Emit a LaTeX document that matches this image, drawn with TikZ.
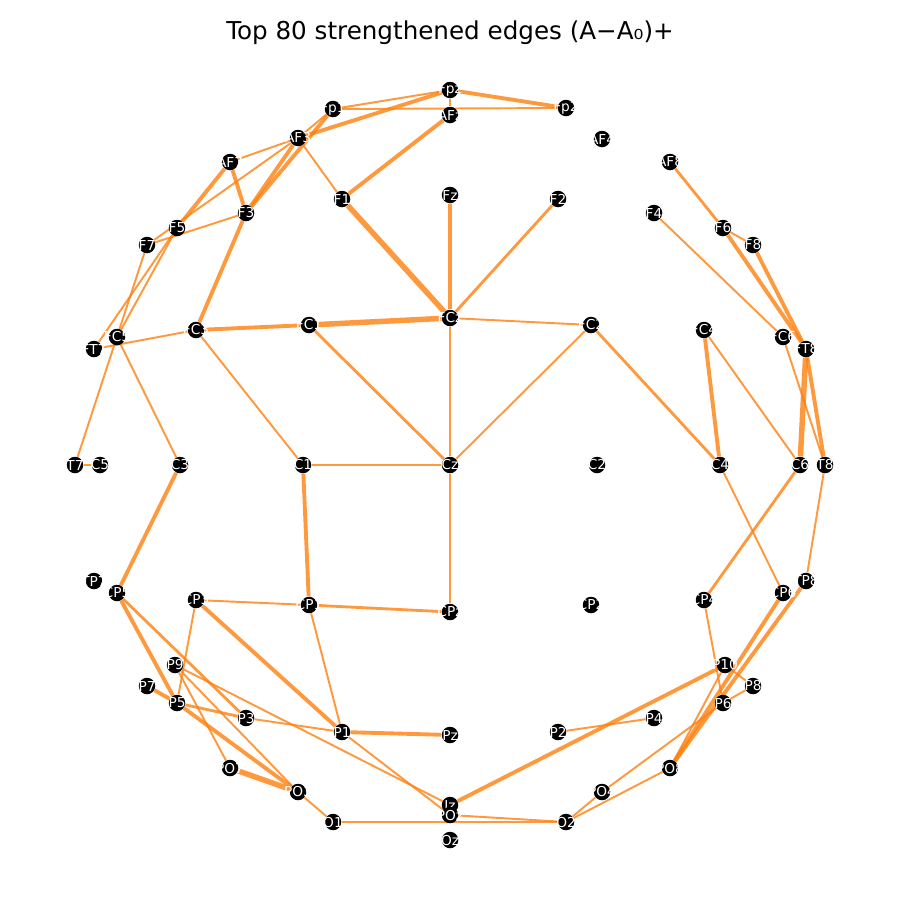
\documentclass[tikz,border=0pt]{standalone}
\usepackage{fontspec}
\setmainfont{DejaVu Sans}
\usepackage{tikz}
\pgfdeclarelayer{background}
\pgfsetlayers{background,main}
\definecolor{taborange}{HTML}{FF7F0E}

\begin{document}
\begin{tikzpicture}[x=0.2mm,y=-0.2mm,
	elec/.style={circle,fill=black,inner sep=0pt,minimum size=3.3mm},
	lbl/.style={text=white,inner sep=0pt,font=\fontsize{7.8}{9}\selectfont},
	e1/.style={draw=taborange,draw opacity=0.8,line width=1.1pt},
	e2/.style={draw=taborange,draw opacity=0.8,line width=1.6pt},
	e3/.style={draw=taborange,draw opacity=0.8,line width=2.2pt},
	e4/.style={draw=taborange,draw opacity=0.8,line width=3.1pt}]
	\useasboundingbox (0,0) rectangle (900,900);
	\node[font=\fontsize{14}{16}\selectfont] (title) at (450,33) {Top 80 strengthened edges (A−A₀)+};
	\foreach \n/\x/\y in {Fpz/450/90,Fp1/333/109,Fp2/566/108,AFz/450/115,AF3/298/138,AF4/602/139,
		AF7/230/162,AF8/670/162,F1/342/199,Fz/450/195,F2/558/199,F3/246/213,F4/654/213,
		F5/177/228,F6/723/228,F7/147/245,F8/753/245,FT7/94/349,FC5/117/337,FC3/196/330,
		FC1/309/325,FCz/450/318,FC2/591/325,FC4/704/330,FC6/783/337,FT8/806/349,
		T7/75/465,C5/100/465,C3/180/465,C1/303/465,Cz/450/465,C2/597/465,C4/720/465,
		C6/800/465,T8/825/465,TP7/94/581,CP5/117/593,CP3/196/600,CP1/309/605,CPz/450/612,
		CP2/591/605,CP4/704/600,CP6/783/593,TP8/806/581,P9/175/665,P7/147/686,P5/177/703,
		P3/246/718,P1/342/732,Pz/450/735,P2/558/732,P4/654/718,P6/723/703,P8/753/686,
		P10/725/665,PO7/230/768,PO3/298/792,PO4/602/792,PO8/670/768,O1/333/822,
		O2/566/822,Iz/450/805,POz/450/815,Oz/450/840}
		\node[elec,label={[lbl]center:\n}] (\n) at (\x,\y) {};
	\begin{pgfonlayer}{background}
		\foreach \a/\b in {Fpz/Fp1,Fp1/Fp2,Fpz/AFz,Fp1/AF3,AF3/F1,AF3/AF7,AF3/F7,F7/F3,
			F5/FC5,F5/FT7,F7/T7,FC5/C3,T7/C5,FT7/FC3,FCz/FC2,FCz/Cz,FC3/C1,FC2/Cz,
			Cz/CPz,CP3/CP1,CP3/P5,CP1/P1,P3/P1,P9/PO3,P9/PO7,P9/Iz,P1/POz,PO3/O1,O1/O2,
			POz/O2,P2/P4,P6/PO4,PO4/O2,PO8/O2,P6/P8,P10/P8,CP4/P6,C4/CP6,T8/TP8,
			FC6/T8,FC4/C6,F4/FC6,F6/F8,PO8/P10}
			\draw[e1] (\a) -- (\b);
		\foreach \a/\b in {F2/FCz,CP5/P3,P5/P3,CP4/C6,AF8/F6,FC2/C4,FC1/Cz,C1/Cz,CP1/CPz}
			\draw[e2] (\a) -- (\b);
		\foreach \a/\b in {Fpz/Fp2,Fpz/AF3,Fp1/F3,AF3/F3,AFz/F1,AF7/F5,AF7/F3,Fz/FCz,
			FC3/FC1,F3/FC3,C1/CP1,C3/CP5,CP5/P5,P7/P5,CP3/P1,P5/PO3,FT8/T8,FC4/C4,
			F8/FT8,F6/FT8,PO8/CP6,PO8/TP8,Iz/P10,P1/Pz}
			\draw[e3] (\a) -- (\b);
		\foreach \a/\b in {F1/FCz,FC1/FCz,PO7/PO3,FT8/C6}
			\draw[e4] (\a) -- (\b);
	\end{pgfonlayer}
\end{tikzpicture}
\end{document}
